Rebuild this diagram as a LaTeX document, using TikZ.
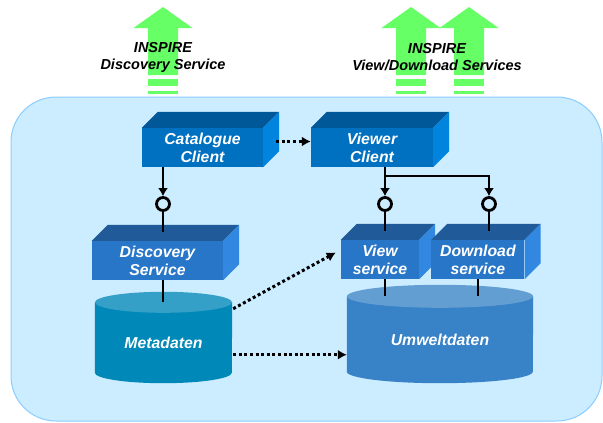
\documentclass[tikz,border=0pt]{standalone}
\usepackage{fontspec}
\setmainfont{Liberation Sans}
\usetikzlibrary{
  arrows.meta,
  backgrounds,
  calc,
  positioning,
}
\definecolor{panelblue}{RGB}{204, 236, 255}
\definecolor{paneledge}{RGB}{140, 205, 255}
\definecolor{upgreen}{RGB}{102, 255, 102}
\definecolor{clientfront}{RGB}{0, 112, 192}
\definecolor{clienttop}{RGB}{0, 88, 152}
\definecolor{clientside}{RGB}{0, 132, 222}
\definecolor{servicefront}{RGB}{40, 118, 200}
\definecolor{servicetop}{RGB}{32, 90, 152}
\definecolor{serviceside}{RGB}{50, 136, 225}
\definecolor{metabody}{RGB}{0, 136, 184}
\definecolor{metatop}{RGB}{52, 160, 200}
\definecolor{umwbody}{RGB}{56, 130, 200}
\definecolor{umwtop}{RGB}{98, 158, 210}
\tikzset{
  client/.style={rectangle, fill=clientfront, text=white, align=center,
    font=\bfseries\itshape\fontsize{15.8}{18}\selectfont,
    minimum width=121, minimum height=39, inner sep=0pt},
  service/.style={client, fill=servicefront},
  store/.style={rectangle, text=white, inner sep=0pt,
    font=\bfseries\itshape\fontsize{15.8}{18}\selectfont},
  caption/.style={align=center, text=black,
    font=\bfseries\itshape\fontsize{14.5}{17}\selectfont},
  socket/.style={circle, draw=black, line width=2.8pt, fill=panelblue,
    minimum size=13pt, inner sep=0pt},
  link/.style={line width=2.8pt, black},
  flow/.style={link, line width=3pt, dash pattern=on 3pt off 2.6pt,
    -{Latex[length=9pt,width=10pt]}},
  panel/.style={fill=panelblue, draw=paneledge, line width=1pt,
    rounded corners=45pt},
}
% top and side faces of a block
\newcommand{\cubefaces}[3]{%
  \fill[#2] (#1.north west) -- ++(16pt,16pt)
    -- ([shift={(16pt,16pt)}]#1.north east) -- (#1.north east) -- cycle;
  \fill[#3] (#1.north east) -- ++(16pt,16pt)
    -- ([shift={(16pt,16pt)}]#1.south east) -- (#1.south east) -- cycle;
}
% body and lid of a data store
\newcommand{\drum}[5]{%
  \fill[#4] (#1.north west) -- ([yshift=#3]#1.south west)
    arc[start angle=180, end angle=360, x radius=#2, y radius=#3]
    -- (#1.north east) -- cycle;
  \fill[#5] (#1.north) ellipse [x radius=#2, y radius=#3];
}

\begin{document}
\begin{tikzpicture}[x=1pt, y=-1pt]
  \useasboundingbox (0,0) rectangle (603,423);

  % INSPIRE arrows
  \foreach \cx in {163,411,469} {
    \fill[upgreen] (\cx-15,75) -- (\cx-15,28) -- (\cx-29.5,28) -- (\cx,7)
      -- (\cx+29.5,28) -- (\cx+15,28) -- (\cx+15,75) -- cycle;
    \fill[upgreen] (\cx-15,79) rectangle (\cx+15,86);
    \fill[upgreen] (\cx-15,91) rectangle (\cx+15,94);
  }
  \node[caption] (dstext) at (163,57) {INSPIRE\\Discovery Service};
  \node[caption] (vdtext) at (437,57) {INSPIRE\\View/Download Services};

  \begin{scope}[on background layer]
    \draw[panel] (11,97) rectangle (602,421);
  \end{scope}

  % clients
  \node[client] (catc) at (202.5,147.5) {Catalogue\\Client};
  \cubefaces{catc}{clienttop}{clientside}
  \node[client, minimum width=122] (viewc) at (372,147.5) {Viewer\\Client};
  \cubefaces{viewc}{clienttop}{clientside}

  % services
  \node[service, minimum width=131] (disc) at (157.5,260.5) {Discovery\\Service};
  \cubefaces{disc}{servicetop}{serviceside}
  \node[service, minimum width=78] (views) at (380,259.5) {View\\service};
  \cubefaces{views}{servicetop}{serviceside}
  \node[service, minimum width=93, right=12pt of views] (dlds) {Download\\service};
  \cubefaces{dlds}{servicetop}{serviceside}

  % data stores
  \node[store, minimum width=137, minimum height=80.5] (meta) at (163.5,342.75) {Metadaten};
  \node[store, minimum width=186, minimum height=86.5] (umw) at (440,339.75) {Umweltdaten};
  \begin{scope}[on background layer]
    \drum{meta}{68.5pt}{10.5pt}{metabody}{metatop}
    \drum{umw}{93pt}{11.5pt}{umwbody}{umwtop}
  \end{scope}

  % interfaces
  \node[socket] (s1) at (163,204) {};
  \node[socket] (s2) at (385,204) {};
  \node[socket] (s3) at (489,204) {};
  \coordinate (fork) at (385,176);

  \draw[link,-{Latex[length=8pt,width=10pt]}] (catc.south -| s1) -- (s1);
  \draw[link] (s1) -- ($(disc.north -| s1)+(0pt,9pt)$);
  \draw[link] (disc.south -| s1) -- (meta.north -| s1);
  \draw[link,-{Latex[length=8pt,width=10pt]}] (viewc.south -| s2) -- (s2);
  \draw[link,-{Latex[length=8pt,width=10pt]}] (fork) -| (s3);
  \draw[link] (s2) -- ($(views.north -| s2)+(0pt,9pt)$);
  \draw[link] (s3) -- ($(dlds.north -| s3)+(0pt,9pt)$);
  \draw[link] (views.south -| s2) -- (umw.north -| s2);
  \draw[link] (dlds.south) -- (umw.north -| dlds.south);

  % data flows
  \draw[flow] ($(catc.east)+(13pt,6pt)$) -- ($(viewc.west)+(0pt,6pt)$);
  \draw[flow] ($(meta.east)+(1pt,34pt)$) -- ($(views.west)+(-5pt,7pt)$);
  \draw[flow] ($(meta.east)+(1pt,-12pt)$) coordinate (m2) -- (m2 -| umw.west);
\end{tikzpicture}
\end{document}
